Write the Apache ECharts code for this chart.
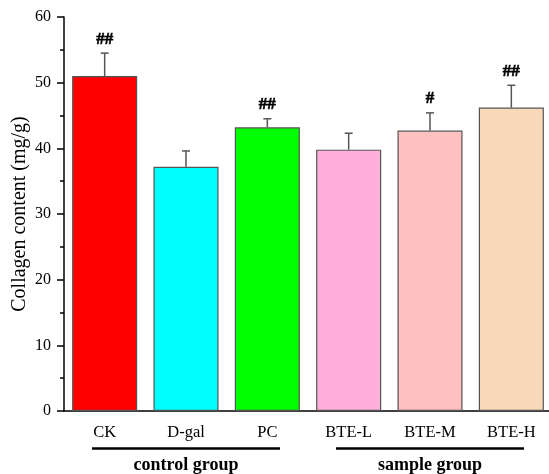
<!DOCTYPE html>
<html>
<head>
<meta charset="utf-8">
<script src="https://cdn.jsdelivr.net/npm/echarts@6/dist/echarts.min.js"></script>
<style>html,body{margin:0;padding:0;background:#fff;}#c{width:549px;height:474px;}</style>
</head>
<body>
<div id="c"></div>
<script>
const categories = ['CK', 'D-gal', 'PC', 'BTE-L', 'BTE-M', 'BTE-H'];
const means = [51.0, 37.2, 43.2, 39.8, 42.7, 46.2];
const errors = [3.5, 2.4, 1.3, 2.5, 2.7, 3.4];
const marks = ['##', '', '##', '', '#', '##'];
const barColors = ['#FF0000', '#00FFFF', '#00FF00', '#FFB1DC', '#FFC0C0', '#FAD8BA'];
const yTicks = [0, 10, 20, 30, 40, 50, 60];
const groups = [
  { name: 'control group', from: 0, to: 2 },
  { name: 'sample group', from: 3, to: 5 }
];

const FONT = "'Liberation Serif', 'Times New Roman', serif";
const chart = echarts.init(document.getElementById('c'));

const option = {
  animation: false,
  backgroundColor: '#fff',
  grid: { left: 64, top: 17, right: -3, bottom: 63, containLabel: false, outerBoundsMode: 'none' },
  xAxis: {
    type: 'category',
    data: categories,
    boundaryGap: true,
    axisLine: { lineStyle: { color: '#000', width: 1.5 } },
    axisTick: { alignWithLabel: true, length: 6, lineStyle: { color: '#000', width: 1.5 } },
    axisLabel: { color: '#000', fontFamily: FONT, fontSize: 16.5, margin: 13, interval: 0 }
  },
  yAxis: {
    type: 'value',
    min: yTicks[0],
    max: yTicks[yTicks.length - 1],
    interval: 10,
    name: 'Collagen content (mg/g)',
    nameLocation: 'middle',
    nameGap: 34,
    nameMoveOverlap: false,
    nameTextStyle: { color: '#000', fontFamily: FONT, fontSize: 20 },
    axisLine: { show: true, lineStyle: { color: '#000', width: 1.5 } },
    axisTick: { show: true, length: 7, lineStyle: { color: '#000', width: 1.5 } },
    minorTick: { show: true, splitNumber: 2, length: 4, lineStyle: { color: '#000', width: 1.5 } },
    splitLine: { show: false },
    axisLabel: { color: '#000', fontFamily: FONT, fontSize: 16, margin: 13 }
  },
  series: [
    {
      type: 'bar',
      barWidth: '80%',
      data: means.map((v, i) => ({
        value: v,
        itemStyle: { color: barColors[i], borderColor: '#555', borderWidth: 1.2 }
      }))
    },
    {
      type: 'custom',
      z: 5,
      data: means.map((v, i) => [i, v, v + errors[i]]),
      renderItem: function (params, api) {
        const x = api.value(0);
        const base = api.coord([x, api.value(1)]);
        const top = api.coord([x, api.value(2)]);
        const capHalf = 4;
        const children = [
          { type: 'line', shape: { x1: base[0], y1: base[1], x2: top[0], y2: top[1] },
            style: { stroke: '#555', lineWidth: 1.5 } },
          { type: 'line', shape: { x1: top[0] - capHalf, y1: top[1], x2: top[0] + capHalf, y2: top[1] },
            style: { stroke: '#555', lineWidth: 1.5 } }
        ];
        const m = marks[params.dataIndex];
        if (m) {
          children.push({
            type: 'text',
            style: { text: m, x: top[0], y: top[1] - 14, align: 'center', verticalAlign: 'middle',
              fill: '#000', font: "bold 17px " + FONT, stroke: '#000', lineWidth: 0.6 }
          });
        }
        return { type: 'group', children: children };
      }
    }
  ]
};
chart.setOption(option);

// group annotations below the axis
const graphics = [];
groups.forEach(g => {
  const a = chart.convertToPixel({ xAxisIndex: 0 }, g.from);
  const b = chart.convertToPixel({ xAxisIndex: 0 }, g.to);
  const cx = (a + b) / 2;
  const half = 94;
  graphics.push({ type: 'line', shape: { x1: cx - half, y1: 448.5, x2: cx + half, y2: 448.5 },
    style: { stroke: '#000', lineWidth: 2.5 } });
  graphics.push({ type: 'text', style: { text: g.name, x: cx, y: 465, align: 'center', verticalAlign: 'middle',
    fill: '#000', font: "bold 18px " + FONT } });
});
chart.setOption({ graphic: graphics });
</script>
</body>
</html>
